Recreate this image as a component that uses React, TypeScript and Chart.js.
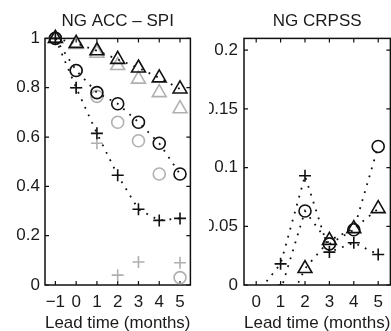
import React, { useEffect, useRef } from "react";
import { Chart, registerables } from "chart.js";

Chart.register(...registerables);

// ---------- data ----------
const accLead = [-1, 0, 1, 2, 3, 4, 5];
const accTriBlack = [1.0, 0.98, 0.95, 0.915, 0.88, 0.84, 0.795];
const accTriGray = [1.0, 0.975, 0.94, 0.89, 0.835, 0.78, 0.715];
const accCircBlack = [1.0, 0.87, 0.78, 0.735, 0.66, 0.575, 0.45];
const accCircGray = [1.0, 0.87, 0.765, 0.66, 0.585, 0.45, 0.03];
const accPlusBlack = [1.0, 0.8, 0.615, 0.445, 0.307, 0.262, 0.27];
const accPlusGray = [1.0, 0.8, 0.575, 0.04, 0.093, null, 0.09];
const accXTicks = [-1, 0, 1, 2, 3, 4, 5];
const accXLabels = ["\u22121", "0", "1", "2", "3", "4", "5"];
const accYTicks = [0, 0.2, 0.4, 0.6, 0.8, 1];
const accYLabels = ["0", "0.2", "0.4", "0.6", "0.8", "1"];

const crpssLead = [0, 1, 2, 3, 4, 5];
const crpssTri = [null, -0.03, 0.014, 0.038, 0.048, 0.065];
const crpssCirc = [null, -0.005, 0.063, 0.035, 0.047, 0.118];
const crpssPlus = [-0.008, 0.018, 0.093, 0.028, 0.036, 0.026];
const crpssXTicks = [0, 1, 2, 3, 4, 5];
const crpssXLabels = ["0", "1", "2", "3", "4", "5"];
const crpssYTicks = [0, 0.05, 0.1, 0.15, 0.2];
const crpssYLabels = ["0", "0.05", "0.1", "0.15", "0.2"];

const FONT = "'Liberation Sans', Arial, sans-serif";
const TEXT = "#1a1a1a";
const BLACK = "#111111";
const GRAY = "#b0b0b0";

const pts = (xs: number[], ys: (number | null)[]) =>
  xs.map((x, i) => ({ x, y: ys[i] })).filter((p) => p.y !== null);

const boxPlugin = {
  id: "matlabBox",
  beforeDatasetsDraw(chart: any) {
    const { ctx, chartArea: a, scales } = chart;
    ctx.save();
    ctx.strokeStyle = BLACK;
    ctx.lineWidth = 1.5;
    ctx.strokeRect(a.left, a.top, a.right - a.left, a.bottom - a.top);
    ctx.lineWidth = 1.2;
    const L = 4;
    ctx.beginPath();
    scales.x.ticks.forEach((t: any) => {
      const px = scales.x.getPixelForValue(t.value);
      ctx.moveTo(px, a.bottom);
      ctx.lineTo(px, a.bottom - L);
      ctx.moveTo(px, a.top);
      ctx.lineTo(px, a.top + L);
    });
    scales.y.ticks.forEach((t: any) => {
      const py = scales.y.getPixelForValue(t.value);
      ctx.moveTo(a.left, py);
      ctx.lineTo(a.left + L, py);
      ctx.moveTo(a.right, py);
      ctx.lineTo(a.right - L, py);
    });
    ctx.stroke();
    ctx.restore();
  },
};

function series(
  data: any[],
  style: string,
  radius: number,
  color: string,
  line: boolean,
  clip: any
) {
  return {
    data,
    showLine: line,
    borderColor: BLACK,
    borderWidth: 1.8,
    borderDash: [1.8, 6.5],
    pointStyle: style,
    pointRadius: radius,
    pointBorderColor: color,
    pointBackgroundColor: "rgba(0,0,0,0)",
    pointBorderWidth: 1.6,
    clip,
  };
}

const labelFor = (ticks: number[], labels: string[]) => (v: any) => {
  const i = ticks.findIndex((t) => Math.abs(t - v) < 1e-9);
  return i >= 0 ? labels[i] : "";
};

function makeConfig(opts: {
  title: string;
  datasets: any[];
  xMin: number;
  xMax: number;
  yMin: number;
  yMax: number;
  xTicks: number[];
  xLabels: string[];
  yTicks: number[];
  yLabels: string[];
  yWidth: number;
  yPad: number;
  padRight: number;
}) {
  return {
    type: "scatter",
    data: { datasets: opts.datasets },
    plugins: [boxPlugin],
    options: {
      animation: false,
      responsive: false,
      events: [],
      font: { family: FONT },
      layout: { padding: { left: 0, right: opts.padRight, top: 0, bottom: 0 } },
      plugins: {
        legend: { display: false },
        tooltip: { enabled: false },
        title: {
          display: true,
          text: opts.title,
          fullSize: false,
          color: TEXT,
          font: { family: FONT, size: 17, weight: "normal" },
          padding: { top: 10.8, bottom: 7.2 },
        },
      },
      scales: {
        x: {
          type: "linear",
          min: opts.xMin,
          max: opts.xMax,
          grid: { display: false, drawTicks: false },
          border: { display: false },
          afterBuildTicks: (s: any) => {
            s.ticks = opts.xTicks.map((v) => ({ value: v }));
          },
          afterFit: (s: any) => {
            s.height = 55;
          },
          ticks: {
            color: TEXT,
            font: { family: FONT, size: 17 },
            padding: 7,
            maxRotation: 0,
            autoSkip: false,
            callback: labelFor(opts.xTicks, opts.xLabels),
          },
          title: {
            display: true,
            text: "Lead time (months)",
            color: TEXT,
            font: { family: FONT, size: 17 },
            padding: { top: 0, bottom: 6.3 },
          },
        },
        y: {
          type: "linear",
          min: opts.yMin,
          max: opts.yMax,
          grid: { display: false, drawTicks: false },
          border: { display: false },
          afterBuildTicks: (s: any) => {
            s.ticks = opts.yTicks.map((v) => ({ value: v }));
          },
          afterFit: (s: any) => {
            s.width = opts.yWidth;
          },
          ticks: {
            color: TEXT,
            font: { family: FONT, size: 17 },
            padding: opts.yPad,
            autoSkip: false,
            callback: labelFor(opts.yTicks, opts.yLabels),
          },
        },
      },
    },
  };
}

export default function App() {
  const leftRef = useRef<HTMLCanvasElement>(null);
  const rightRef = useRef<HTMLCanvasElement>(null);

  useEffect(() => {
    const left = new Chart(
      leftRef.current as HTMLCanvasElement,
      makeConfig({
        title: "NG ACC \u2013 SPI",
        datasets: [
          series(pts(accLead, accTriBlack), "triangle", 8, BLACK, true, false),
          series(pts(accLead, accCircBlack), "circle", 6, BLACK, true, false),
          series(pts(accLead, accPlusBlack), "cross", 6, BLACK, true, false),
          series(pts(accLead, accTriGray), "triangle", 8, GRAY, false, false),
          series(pts(accLead, accCircGray), "circle", 6, GRAY, false, false),
          series(pts(accLead, accPlusGray), "cross", 6, GRAY, false, false),
        ],
        xMin: -1.5,
        xMax: 5.5,
        yMin: 0,
        yMax: 1,
        xTicks: accXTicks,
        xLabels: accXLabels,
        yTicks: accYTicks,
        yLabels: accYLabels,
        yWidth: 45,
        yPad: 5,
        padRight: 7,
      }) as any
    );
    const right = new Chart(
      rightRef.current as HTMLCanvasElement,
      makeConfig({
        title: "NG CRPSS",
        datasets: [
          series(pts(crpssLead, crpssTri), "triangle", 8, BLACK, true, undefined),
          series(pts(crpssLead, crpssCirc), "circle", 6, BLACK, true, undefined),
          series(pts(crpssLead, crpssPlus), "cross", 6, BLACK, true, undefined),
        ],
        xMin: -0.5,
        xMax: 5.5,
        yMin: 0,
        yMax: 0.21,
        xTicks: crpssXTicks,
        xLabels: crpssXLabels,
        yTicks: crpssYTicks,
        yLabels: crpssYLabels,
        yWidth: 48,
        yPad: 6,
        padRight: 5,
      }) as any
    );
    return () => {
      left.destroy();
      right.destroy();
    };
  }, []);

  return (
    <div
      style={{
        position: "fixed",
        left: 0,
        top: 0,
        width: 391,
        height: 331,
        overflow: "hidden",
        background: "#fff",
      }}
    >
      <div style={{ position: "absolute", left: 0, top: 0, width: 200, height: 340 }}>
        <canvas ref={leftRef} width={200} height={340} style={{ width: 200, height: 340 }} />
      </div>
      <div
        style={{
          position: "absolute",
          left: 209,
          top: 0,
          width: 182,
          height: 331,
          overflow: "hidden",
        }}
      >
        <div style={{ position: "absolute", left: -13, top: 0, width: 204, height: 340 }}>
          <canvas ref={rightRef} width={204} height={340} style={{ width: 204, height: 340 }} />
        </div>
      </div>
    </div>
  );
}
